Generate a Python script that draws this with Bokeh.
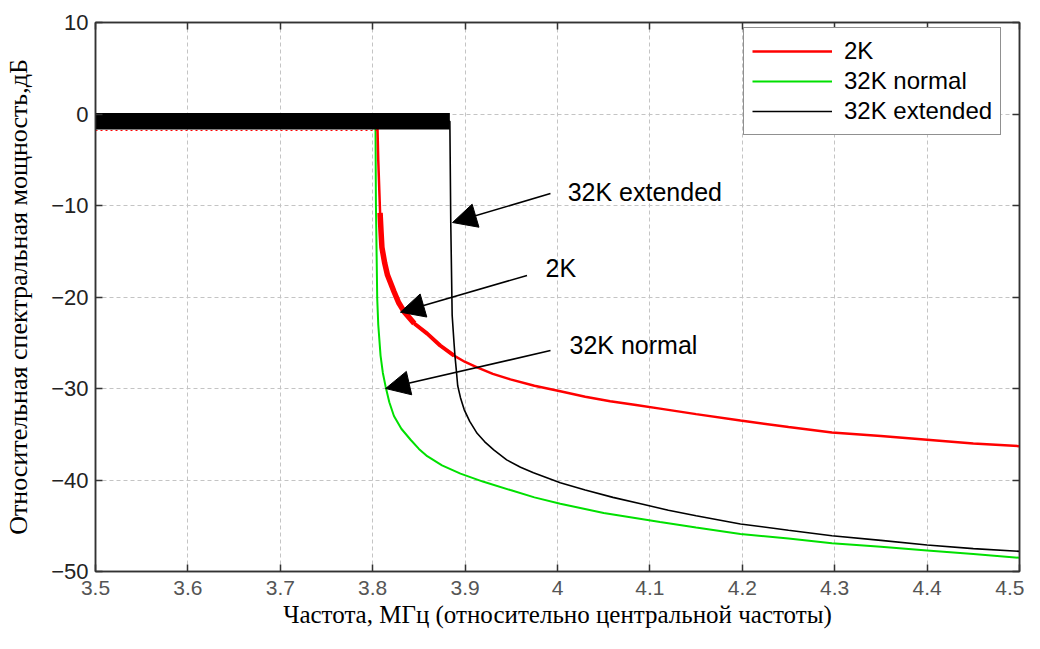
from bokeh.plotting import figure
from bokeh.models import (Range1d, LinearAxis, FixedTicker, Legend, LegendItem,
                          Arrow, NormalHead, Label, CustomJSTickFormatter)
from bokeh.embed import file_html
from bokeh.resources import INLINE

# ---------------- data ----------------
ext_x = [3.5, 3.8835, 3.8845, 3.886, 3.888, 3.889, 3.8905, 3.892, 3.895, 3.899,
         3.905, 3.913, 3.921, 3.931, 3.945, 3.960, 3.974, 4.003, 4.03, 4.06,
         4.09, 4.12, 4.15, 4.198, 4.25, 4.297, 4.35, 4.40, 4.45, 4.5]
ext_y = [-0.8, -0.8, -12.0, -22.0, -25.0, -26.4, -28.0, -29.7, -31.0, -32.3,
         -33.6, -34.9, -35.8, -36.7, -37.8, -38.6, -39.2, -40.3, -41.1, -41.9,
         -42.6, -43.3, -43.9, -44.8, -45.5, -46.1, -46.6, -47.1, -47.5, -47.8]

norm_x = [3.5, 3.803, 3.8035, 3.8049, 3.806, 3.8085, 3.811, 3.814, 3.818, 3.823,
          3.831, 3.841, 3.850, 3.859, 3.875, 3.895, 3.920, 3.949, 3.975, 4.003,
          4.05, 4.111, 4.15, 4.198, 4.25, 4.297, 4.35, 4.40, 4.45, 4.5]
norm_y = [-0.8, -0.8, -10.0, -20.2, -23.0, -26.4, -28.3, -29.8, -31.5, -33.0,
          -34.4, -35.6, -36.6, -37.4, -38.4, -39.3, -40.2, -41.1, -41.9, -42.6,
          -43.6, -44.6, -45.2, -45.9, -46.4, -46.9, -47.3, -47.7, -48.1, -48.5]

k2_x = [3.5, 3.805, 3.806, 3.808, 3.809, 3.810, 3.813, 3.816, 3.823, 3.828,
        3.834, 3.845, 3.859, 3.873, 3.888, 3.900, 3.913, 3.930, 3.949, 3.975,
        4.003, 4.03, 4.057, 4.085, 4.111, 4.15, 4.198, 4.25, 4.297, 4.35,
        4.40, 4.45, 4.5]
k2_y = [-0.8, -0.8, -5.0, -10.8, -12.8, -14.6, -16.3, -17.6, -19.4, -20.6,
        -21.6, -22.9, -24.0, -25.3, -26.4, -27.1, -27.7, -28.4, -29.0, -29.7,
        -30.3, -30.9, -31.4, -31.8, -32.2, -32.8, -33.5, -34.2, -34.8, -35.2,
        -35.6, -36.0, -36.3]

# in-band ripple envelope of the extended spectrum
band_x = [3.5, 3.8835]
band_top = [0.1, 0.1]
band_bottom = [-1.7, -1.7]

x_ticks = [3.5, 3.6, 3.7, 3.8, 3.9, 4.0, 4.1, 4.2, 4.3, 4.4, 4.5]
y_ticks = [-50, -40, -30, -20, -10, 0, 10]

series_names = ["2K", "32K normal", "32K extended"]

# annotations: (text, text_x, text_y, arrow_x0, arrow_y0, arrow_x1, arrow_y1)
notes = [
    ("32K extended", 4.011, -8.5, 3.9924, -8.69, 3.8864, -11.86),
    ("2K", 3.987, -16.8, 3.967, -17.65, 3.830, -21.66),
    ("32K normal", 4.013, -25.3, 3.9924, -25.85, 3.814, -30.0),
]

# ---------------- figure ----------------
p = figure(width=1024, height=633, output_backend="svg", toolbar_location=None,
           x_range=Range1d(3.5, 4.5), y_range=Range1d(-50, 10),
           min_border_left=95, min_border_right=5, min_border_top=22,
           min_border_bottom=62)
p.background_fill_color = "white"
p.border_fill_color = "white"
p.outline_line_color = "#333333"
p.outline_line_width = 1.5

for ax in (p.xaxis[0], p.yaxis[0]):
    ax.major_tick_in = 7
    ax.major_tick_out = 0
    ax.minor_tick_line_color = None
    ax.axis_line_color = "#333333"
    ax.axis_line_width = 1.5
    ax.major_tick_line_color = "#333333"
    ax.major_tick_line_width = 1.5

p.xaxis[0].ticker = FixedTicker(ticks=x_ticks)
p.xaxis[0].formatter = CustomJSTickFormatter(code="return String(Number(tick.toFixed(1)));")
p.xaxis[0].major_label_text_font = "Liberation Sans"
p.xaxis[0].major_label_text_font_size = "21px"
p.xaxis[0].major_label_text_color = "#555555"
p.xaxis[0].major_label_standoff = 9
p.xaxis[0].axis_label = "Частота, МГц (относительно центральной частоты)"
p.xaxis[0].axis_label_text_font = "Liberation Serif"
p.xaxis[0].axis_label_text_font_style = "normal"
p.xaxis[0].axis_label_text_font_size = "25px"
p.xaxis[0].axis_label_text_color = "black"
p.xaxis[0].axis_label_standoff = 3

p.yaxis[0].ticker = FixedTicker(ticks=y_ticks)
p.yaxis[0].major_label_text_font = "Liberation Sans"
p.yaxis[0].major_label_text_font_size = "22px"
p.yaxis[0].major_label_text_color = "#222222"
p.yaxis[0].major_label_standoff = 7
p.yaxis[0].axis_label = "Относительная спектральная мощность,дБ"
p.yaxis[0].axis_label_text_font = "Liberation Serif"
p.yaxis[0].axis_label_text_font_style = "normal"
p.yaxis[0].axis_label_text_font_size = "26px"
p.yaxis[0].axis_label_text_color = "black"
p.yaxis[0].axis_label_standoff = 15

# mirrored axes (top/right) with inward ticks, no labels
top = LinearAxis(ticker=FixedTicker(ticks=x_ticks), major_tick_in=7, major_tick_out=0,
                 major_label_text_font_size="0px", major_label_standoff=0,
                 minor_tick_line_color=None, axis_line_color="#333333",
                 axis_line_width=1.5, major_tick_line_color="#333333",
                 major_tick_line_width=1.5)
right = LinearAxis(ticker=FixedTicker(ticks=y_ticks), major_tick_in=7, major_tick_out=0,
                   major_label_text_font_size="0px", major_label_standoff=0,
                   minor_tick_line_color=None, axis_line_color="#333333",
                   axis_line_width=1.5, major_tick_line_color="#333333",
                   major_tick_line_width=1.5)
p.add_layout(top, "above")
p.add_layout(right, "right")

p.xgrid.ticker = FixedTicker(ticks=x_ticks)
p.ygrid.ticker = FixedTicker(ticks=y_ticks)
for g in (p.xgrid[0], p.ygrid[0]):
    g.grid_line_color = "#c4c4c4"
    g.grid_line_dash = "4 3"
    g.grid_line_width = 1

# ---------------- series ----------------
r_norm = p.line(norm_x, norm_y, line_color="#00e000", line_width=2)
r_k2 = p.line(k2_x, k2_y, line_color="#ff0000", line_width=2.5)
p.line(k2_x[3:12], k2_y[3:12], line_color="#ff0000", line_width=5.5)
p.line(k2_x[11:15], k2_y[11:15], line_color="#ff0000", line_width=4)
p.line([k2_x[0], k2_x[1]], [band_bottom[0] - 0.1, band_bottom[1] - 0.1],
       line_color="#ff0000", line_width=1, line_dash="2 3")
r_ext = p.line(ext_x, ext_y, line_color="black", line_width=1.6)
p.varea(x=band_x, y1=band_bottom, y2=band_top, fill_color="black")

legend = Legend(items=[LegendItem(label=series_names[0], renderers=[r_k2]),
                       LegendItem(label=series_names[1], renderers=[r_norm]),
                       LegendItem(label=series_names[2], renderers=[r_ext])],
                location=(648, 436))
legend.label_text_font = "Liberation Sans"
legend.label_text_font_size = "24px"
legend.label_text_color = "black"
legend.glyph_width = 80
legend.glyph_height = 30
legend.label_height = 30
legend.label_standoff = 12
legend.spacing = 0
legend.padding = 8
legend.margin = 0
legend.border_line_color = "#222222"
legend.border_line_width = 1.5
legend.background_fill_color = "white"
legend.background_fill_alpha = 1
p.add_layout(legend, "center")

for txt, tx, ty, x0, y0, x1, y1 in notes:
    p.add_layout(Arrow(end=NormalHead(size=24, fill_color="black", line_color="black"),
                       x_start=x0, y_start=y0, x_end=x1, y_end=y1,
                       line_color="black", line_width=1.6))
    p.add_layout(Label(x=tx, y=ty, text=txt, text_font="Liberation Sans",
                       text_font_size="25px", text_color="black",
                       text_baseline="middle", text_align="left"))

open("out.html", "w").write(file_html(p, INLINE))
